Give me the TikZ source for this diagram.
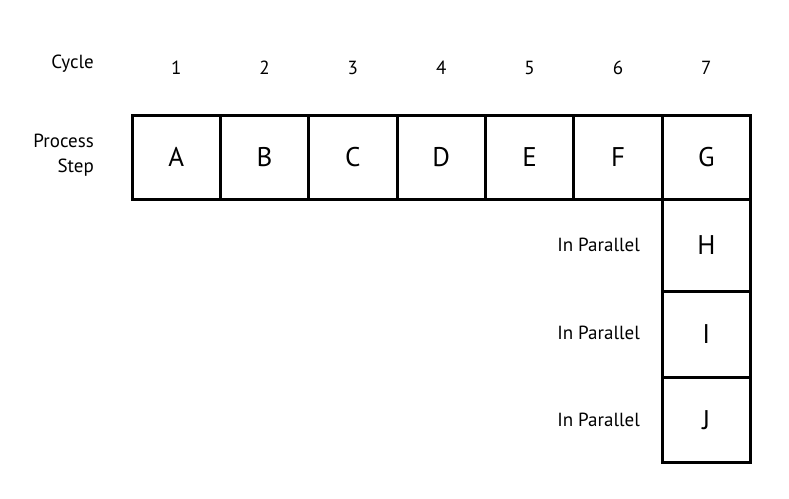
\documentclass[tikz,border=0pt]{standalone}
\usepackage{fontspec}
\setmainfont{PT Sans}
\begin{document}
\begin{tikzpicture}[x=1pt,y=-1pt,
  cell/.style={draw=black,line width=3pt,minimum width=88.36pt,minimum height=84pt,inner sep=0pt,font=\fontsize{27}{30}\selectfont,anchor=north west},
  lbl/.style={font=\fontsize{19}{25}\selectfont,inner sep=0pt},
  par/.style={lbl,anchor=east}]
\useasboundingbox (0,0) rectangle (789,498);
\fill[white] (0,0) rectangle (789,498);
% top row
\node[cell] (A) at (130.5,113.5) {A};
\node[cell] (B) at (218.86,113.5) {B};
\node[cell] (C) at (307.22,113.5) {C};
\node[cell] (D) at (395.58,113.5) {D};
\node[cell] (E) at (483.94,113.5) {E};
\node[cell] (F) at (572.3,113.5) {F};
\node[cell] (G) at (660.66,113.5) {G};
\node[cell,minimum height=92.8pt] (H) at (660.66,197.5) {H};
\node[cell,minimum height=85.4pt] (I) at (660.66,290.3) {I};
\node[cell,minimum height=85.3pt] (J) at (660.66,375.7) {J};
% cycle labels
\node[lbl,anchor=east] (cyc) at (94,64) {Cycle};
\foreach \n/\c in {1/A,2/B,3/C,4/D,5/E,6/F,7/G}
  \node[lbl] (n\n) at (\c.center |- 0,67.5) {\n};
\node[lbl,align=right,anchor=east] (ps) at (94,155) {Process\\Step};
\node[par] (p1) at (640,245) {In Parallel};
\node[par] (p2) at (640,333) {In Parallel};
\node[par] (p3) at (640,420) {In Parallel};
\end{tikzpicture}
\end{document}
